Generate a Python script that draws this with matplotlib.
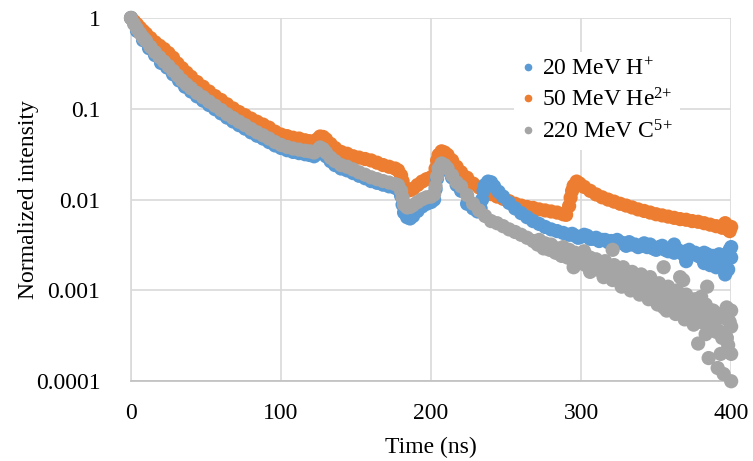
#Imports
import matplotlib
matplotlib.use('Agg')
import matplotlib.pyplot as plt
from matplotlib.lines import Line2D
from matplotlib.ticker import FixedLocator, FuncFormatter
import numpy as np

plt.rcParams['font.family'] = ['Liberation Serif', 'DejaVu Serif']
plt.rcParams['mathtext.default'] = 'regular'

#Data (time in ns, normalized intensity)
labels = ['20 MeV H$^{+}$', '50 MeV He$^{2{+}}$', '220 MeV C$^{5{+}}$']
colors = ['#5B9BD5', '#ED7D31', '#A5A5A5']

#50 MeV He2+
t_he = [0, 2, 4, 6, 8, 10, 13, 16, 19, 22, 25, 28, 31, 34, 37, 40, 44, 48, 52, 56,
        60, 64, 68, 72, 76, 80, 84, 88, 92, 96, 100, 104, 108, 112, 116, 119, 122, 124, 126, 128,
        130, 133, 136, 140, 144, 148, 152, 156, 160, 164, 168, 172, 176, 178, 180, 181, 182, 184, 186, 188,
        191, 194, 197, 200, 202, 203, 204, 205, 207, 209, 211, 214, 217, 220, 224, 228, 232, 236, 240, 244,
        248, 252, 256, 260, 264, 268, 272, 276, 280, 284, 288, 290, 292, 293, 294, 295, 297, 299, 302, 306,
        310, 314, 318, 322, 326, 330, 334, 338, 342, 346, 350, 354, 358, 362, 366, 370, 374, 378, 382, 386,
        390, 394, 398, 400, 396, 399]
v_he = [1.0, 0.92, 0.85, 0.78, 0.72, 0.67, 0.60, 0.54, 0.495, 0.455, 0.41, 0.365, 0.315, 0.28, 0.25, 0.225, 0.197, 0.175, 0.155, 0.138,
        0.125, 0.112, 0.101, 0.092, 0.085, 0.078, 0.072, 0.067, 0.062, 0.056, 0.052, 0.050, 0.048, 0.047, 0.045, 0.044, 0.0435, 0.046, 0.0495, 0.049,
        0.046, 0.041, 0.037, 0.0335, 0.032, 0.030, 0.029, 0.028, 0.027, 0.0255, 0.024, 0.023, 0.022, 0.021, 0.0185, 0.016, 0.0138, 0.0128, 0.0127, 0.0132,
        0.0145, 0.0158, 0.0168, 0.0176, 0.0185, 0.022, 0.027, 0.031, 0.034, 0.033, 0.031, 0.027, 0.023, 0.020, 0.0174, 0.0150, 0.0136, 0.0124, 0.0115, 0.0108,
        0.0102, 0.0096, 0.0090, 0.0086, 0.0083, 0.0081, 0.0078, 0.0076, 0.0074, 0.0072, 0.0069, 0.0068, 0.0085, 0.0105, 0.0125, 0.0142, 0.0158, 0.0150, 0.0138, 0.0125,
        0.0114, 0.0106, 0.0100, 0.0095, 0.0090, 0.0086, 0.0082, 0.0078, 0.0075, 0.0072, 0.0069, 0.0067, 0.0065, 0.0063, 0.0061, 0.0060, 0.0058, 0.0057, 0.0055, 0.0053,
        0.0051, 0.0049, 0.0047, 0.0050, 0.0055, 0.0045]

#20 MeV H+
t_h = [0, 4, 8, 12, 16, 20, 24, 28, 32, 36, 40, 44, 48, 52, 56, 60, 64, 68, 72, 76,
       80, 84, 88, 92, 96, 100, 104, 108, 112, 116, 119, 122, 124, 126, 128, 130, 133, 136, 140, 144,
       148, 152, 156, 160, 164, 168, 172, 176, 178, 180, 181, 182, 184, 186, 188, 191, 194, 197, 200, 202,
       203, 204, 205, 207, 209, 211, 214, 217, 220, 224, 228, 231, 233, 234, 235, 236, 238, 240, 242, 245,
       248, 252, 256, 260, 264, 268, 272, 276, 280, 284, 288, 292, 294, 296, 298, 300, 302, 304, 306, 308,
       310, 312, 314, 316, 318, 320, 322, 324, 326, 328, 330, 332, 334, 336, 338, 340, 342, 344, 346, 348,
       350, 352, 354, 356, 358, 360, 362, 364, 366, 368, 370, 372, 374, 376, 378, 380, 382, 384, 386, 388,
       390, 392, 394, 396, 398, 400, 390, 394, 398, 399, 386, 382, 396, 400, 370, 362]
v_h = [1.0, 0.72, 0.57, 0.465, 0.39, 0.32, 0.285, 0.24, 0.205, 0.175, 0.155, 0.137, 0.123, 0.11, 0.099, 0.089, 0.080, 0.0725, 0.066, 0.0605,
       0.055, 0.0505, 0.047, 0.043, 0.0395, 0.037, 0.035, 0.0335, 0.0325, 0.0316, 0.031, 0.030, 0.032, 0.0345, 0.033, 0.030, 0.0265, 0.024, 0.022, 0.021,
       0.0196, 0.0183, 0.0172, 0.016, 0.0153, 0.0146, 0.014, 0.0135, 0.0131, 0.0110, 0.0088, 0.0072, 0.0064, 0.0062, 0.0066, 0.0075, 0.0084, 0.0090, 0.0094, 0.0100,
       0.013, 0.017, 0.021, 0.024, 0.023, 0.021, 0.0175, 0.0145, 0.0125, 0.0090, 0.0080, 0.0074, 0.0080, 0.0100, 0.0125, 0.0145, 0.0158, 0.0155, 0.0140, 0.0122,
       0.0108, 0.0092, 0.0080, 0.0071, 0.0064, 0.0058, 0.0054, 0.0050, 0.0047, 0.0045, 0.0043, 0.0041, 0.0042, 0.0040, 0.0038, 0.0039, 0.0041, 0.0040, 0.0037, 0.0037,
       0.0038, 0.0035, 0.0036, 0.0036, 0.0034, 0.0035, 0.0033, 0.0036, 0.0034, 0.0033, 0.0031, 0.0034, 0.0032, 0.0032, 0.0030, 0.0031, 0.0033, 0.0030, 0.0032, 0.0029,
       0.0028, 0.0030, 0.0031, 0.0028, 0.0027, 0.0029, 0.0026, 0.0028, 0.0027, 0.0025, 0.0027, 0.0028, 0.0025, 0.0026, 0.0024, 0.0023, 0.0026, 0.0025, 0.0022, 0.0024,
       0.0022, 0.0025, 0.0021, 0.0023, 0.0026, 0.0023, 0.0018, 0.0019, 0.0017, 0.0028, 0.0019, 0.0020, 0.0015, 0.0030, 0.0021, 0.0032]

#220 MeV C5+
t_c = [0, 2, 4, 6, 8, 10, 13, 16, 19, 22, 25, 28, 31, 34, 37, 40, 44, 48, 52, 56,
       60, 64, 68, 72, 76, 80, 84, 88, 92, 96, 100, 104, 108, 112, 116, 119, 122, 124, 126, 128,
       130, 133, 136, 140, 144, 148, 152, 156, 160, 164, 168, 172, 176, 178, 180, 181, 182, 184, 186, 188,
       191, 194, 197, 200, 202, 203, 204, 205, 207, 209, 211, 214, 217, 220, 224, 228, 232, 236, 240, 244,
       248, 252, 256, 260, 264, 268, 270, 272, 274, 276, 278, 280, 282, 284, 286, 288, 290, 292, 294, 296,
       298, 300, 302, 304, 306, 308, 310, 312, 314, 316, 318, 320, 322, 324, 326, 328, 330, 332, 334, 336,
       338, 340, 342, 344, 346, 348, 350, 352, 354, 356, 358, 360, 362, 364, 366, 368, 370, 372, 374, 376,
       378, 380, 382, 384, 386, 388, 390, 392, 394, 396, 398, 400,
       271, 273, 275, 277, 279, 281, 283, 285, 287, 289, 291, 293, 295, 297, 299, 301, 303, 305, 307, 309,
       311, 313, 315, 317, 319, 321, 323, 325, 327, 329, 331, 333, 335, 337, 339, 341, 343, 345, 347, 349,
       351, 353, 355, 357, 359, 361, 363, 365, 367, 369, 371, 373, 375, 377, 379, 381, 383, 385, 387, 389,
       391, 393, 395, 397, 399,
       366, 368, 384, 380, 397, 400, 383, 378, 385, 391, 395, 400, 393, 400, 397, 321, 327, 341, 355, 355,
       306, 295]
v_c = [1.0, 0.86, 0.76, 0.68, 0.61, 0.56, 0.48, 0.42, 0.37, 0.33, 0.295, 0.262, 0.232, 0.205, 0.185, 0.168, 0.149, 0.134, 0.120, 0.108,
       0.097, 0.087, 0.079, 0.072, 0.066, 0.060, 0.055, 0.051, 0.047, 0.043, 0.040, 0.038, 0.0365, 0.0355, 0.0345, 0.034, 0.033, 0.035, 0.0375, 0.036,
       0.033, 0.029, 0.0265, 0.024, 0.023, 0.0215, 0.0200, 0.0188, 0.0176, 0.0168, 0.0160, 0.0154, 0.0148, 0.0144, 0.0125, 0.0105, 0.0088, 0.0082, 0.0083, 0.0087,
       0.0094, 0.0101, 0.0106, 0.0108, 0.0114, 0.014, 0.018, 0.022, 0.025, 0.024, 0.022, 0.0185, 0.0155, 0.0140, 0.0112, 0.0090, 0.0076, 0.0066, 0.0058, 0.0055,
       0.0051, 0.0047, 0.0044, 0.0041, 0.0038, 0.0035, 0.0034, 0.0036, 0.0031, 0.0033, 0.0030, 0.0032, 0.0027, 0.0029, 0.0025, 0.0030, 0.0026, 0.0028, 0.0023, 0.0026,
       0.0024, 0.0022, 0.0027, 0.0021, 0.0023, 0.0019, 0.0022, 0.0020, 0.0016, 0.0021, 0.0018, 0.0015, 0.0019, 0.0017, 0.0013, 0.0018, 0.0015, 0.0012, 0.0016, 0.0014,
       0.0011, 0.0015, 0.0012, 0.00095, 0.0014, 0.0011, 0.00085, 0.0012, 0.0009, 0.0007, 0.0011, 0.0008, 0.00065, 0.0010, 0.00075, 0.0006, 0.0009, 0.0007, 0.00055, 0.0008,
       0.0006, 0.00045, 0.0007, 0.0005, 0.0004, 0.0006, 0.00035, 0.0005, 0.0003, 0.00055, 0.00025, 0.0004,
       0.0032, 0.0034, 0.0029, 0.0031, 0.0028, 0.0030, 0.0026, 0.0028, 0.0024, 0.0027, 0.0023, 0.0025, 0.0021, 0.0024, 0.0020, 0.0023, 0.0019, 0.0021, 0.0017, 0.0020,
       0.0017, 0.0019, 0.0014, 0.0018, 0.0016, 0.0013, 0.0017, 0.0015, 0.0011, 0.0016, 0.0013, 0.0010, 0.0014, 0.0012, 0.0009, 0.0013, 0.0010, 0.0008, 0.0012, 0.0009,
       0.0007, 0.0010, 0.00075, 0.0006, 0.0009, 0.0007, 0.00055, 0.0008, 0.0006, 0.00048, 0.00075, 0.00058, 0.00042, 0.00065, 0.0005, 0.0005, 0.0007, 0.00045, 0.0006, 0.0004,
       0.00055, 0.00035, 0.0005, 0.0003, 0.00045,
       0.0014, 0.0013, 0.0011, 0.00085, 0.00065, 0.0006, 0.00033, 0.00026, 0.00018, 0.00014, 0.00012, 0.0001, 0.0002, 0.0002, 0.0003, 0.0028, 0.0012, 0.0011, 0.00065, 0.0018,
       0.0016, 0.0018]

#Plot
fig = plt.figure(figsize=(7.53, 4.61), dpi=100)
ax = fig.add_axes([0.174, 0.173, 0.797, 0.788])

ms = 105
ax.scatter(t_he, v_he, s=ms, color=colors[1], edgecolors='none', zorder=3, clip_on=False)
ax.scatter(t_h, v_h, s=ms, color=colors[0], edgecolors='none', zorder=4, clip_on=False)
ax.scatter(t_c, v_c, s=ms, color=colors[2], edgecolors='none', zorder=5, clip_on=False)

ax.set_yscale('log')
ax.set_xlim(0, 400)
ax.set_ylim(1e-4, 1)
ax.xaxis.set_major_locator(FixedLocator([0, 100, 200, 300, 400]))
ax.yaxis.set_major_locator(FixedLocator([1e-4, 1e-3, 1e-2, 1e-1, 1]))
ax.yaxis.set_minor_locator(FixedLocator([]))
ax.yaxis.set_major_formatter(FuncFormatter(lambda v, p: '%g' % v))
ax.tick_params(axis='x', length=0, labelsize=17, pad=16)
ax.tick_params(axis='y', length=0, labelsize=17, pad=22)
ax.grid(color='#d9d9d9', linewidth=1.2)
ax.set_axisbelow(True)
for side in ['top', 'right']:
    ax.spines[side].set_visible(False)
ax.spines['left'].set_color('#d9d9d9')
ax.spines['bottom'].set_color('#bfbfbf')
ax.spines['left'].set_linewidth(1.2)
ax.spines['bottom'].set_linewidth(1.2)

ax.set_xlabel('Time (ns)', fontsize=17, labelpad=9)
ax.set_ylabel('Normalized intensity', fontsize=17, labelpad=-2)

handles = [Line2D([], [], linestyle='none', marker='o', markersize=4.5, color=c) for c in colors]
leg = ax.legend(handles, labels, loc='upper left', bbox_to_anchor=(0.618, 0.94), fontsize=17,
                frameon=True, framealpha=1, edgecolor='none', fancybox=False,
                handlelength=0.6, handletextpad=0.3, labelspacing=0.35, borderpad=0.3)
leg.set_zorder(10)

plt.savefig('out.png', dpi=100)
